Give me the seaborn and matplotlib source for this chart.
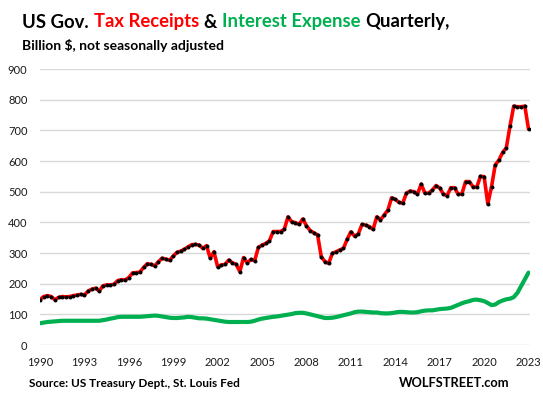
import matplotlib
matplotlib.use("Agg")
import matplotlib.pyplot as plt
import seaborn as sns
import pandas as pd

# quarterly values, 1990Q1 .. 2023Q1, billion $
tax_receipts = [
    148, 158, 161, 158,  148, 155, 158, 157,  158, 161, 163, 165,   # 1990-92
    163, 176, 182, 185,  176, 193, 196, 196,  198, 210, 213, 212,   # 1993-95
    220, 235, 236, 238,  253, 265, 263, 258,  272, 283, 280, 276,   # 1996-98
    290, 302, 306, 312,  320, 327, 328, 326,  315, 324, 283, 304,   # 1999-01
    255, 261, 263, 277,  268, 263, 239, 285,  268, 279, 275, 318,   # 2002-04
    326, 331, 340, 370,  370, 370, 377, 418,  402, 399, 393, 411,   # 2005-07
    389, 373, 366, 359,  288, 272, 266, 299,  304, 310, 315, 345,   # 2008-10
    369, 355, 362, 393,  391, 386, 377, 418,  408, 424, 440, 480,   # 2011-13
    475, 465, 462, 495,  502, 500, 492, 525,  495, 495, 505, 520,   # 2014-16
    512, 492, 487, 513,  513, 491, 493, 533,  533, 516, 514, 550,   # 2017-19
    549, 460, 516, 587,  603, 628, 643, 714,  779, 777, 777, 779,   # 2020-22
    704,                                                            # 2023
]

interest_expense = [
    71, 73, 75, 76,  77, 78, 79, 79,  79, 79, 79, 79,
    79, 79, 79, 79,  79, 81, 83, 86,  88, 91, 92, 92,
    92, 92, 92, 92,  93, 94, 95, 96,  95, 93, 91, 89,
    88, 88, 89, 90,  92, 91, 89, 87,  87, 86, 84, 82,
    80, 78, 76, 75,  75, 75, 75, 75,  75, 76, 79, 83,
    86, 88, 90, 92,  93, 95, 97, 99,  101, 104, 105, 105,
    103, 100, 97, 94,  91, 88, 88, 89,  91, 94, 97, 100,
    103, 107, 109, 109,  108, 107, 106, 106,  104, 103, 103, 104,
    106, 108, 108, 107,  106, 106, 107, 110,  112, 113, 113, 115,
    117, 118, 119, 121,  126, 131, 136, 140,  143, 147, 148, 146,
    143, 137, 130, 132,  140, 145, 149, 151,  156, 170, 192, 214,
    236,
]

year_labels = ['1990', '1993', '1996', '1999', '2002', '2005',
               '2008', '2011', '2014', '2017', '2020', '2023']
y_ticks = [0, 100, 200, 300, 400, 500, 600, 700, 800, 900]

df = pd.DataFrame({
    'q': range(len(tax_receipts)),
    'tax': tax_receipts,
    'interest': interest_expense,
})

sns.set_theme(style='white')
plt.rcParams['font.family'] = ['Lato', 'DejaVu Sans']

W, H = 543, 394
fig = plt.figure(figsize=(W / 100, H / 100), dpi=100)
ax = fig.add_axes([40 / W, 49 / H, 490 / W, 276 / H])

sns.lineplot(data=df, x='q', y='interest', color='#00B050', linewidth=3.0, ax=ax)
sns.lineplot(data=df, x='q', y='tax', color='#FF0000', linewidth=2.6,
             marker='o', markersize=2.1, markerfacecolor='black',
             markeredgecolor='black', ax=ax)

ax.set_xlim(0, 132.4)
ax.set_ylim(0, 900)
ax.set_yticks(y_ticks)
ax.set_xticks(range(0, 12 * len(year_labels), 12))
ax.set_xticklabels(year_labels)
ax.set_xlabel('')
ax.set_ylabel('')
ax.grid(axis='y', color='#D9D9D9', linewidth=1)
ax.set_axisbelow(True)
sns.despine(ax=ax, left=True, bottom=True)
ax.tick_params(axis='y', length=0, labelsize=8, colors='#1a1a1a', pad=9)
ax.tick_params(axis='x', length=0, labelsize=8, colors='#1a1a1a', pad=9)

# title in three colours
tx = fig.text(22 / W, 1 - 27.5 / H, 'US Gov.', fontsize=13.3, fontweight='bold',
              color='black', va='baseline')
parts = [(' Tax Receipts', '#FF0000'), (' &', 'black'),
         (' Interest Expense', '#00B050'), (' Quarterly,', 'black')]
prev = tx
for s, c in parts:
    prev = ax.annotate(s.strip(), xy=(1, 0), xycoords=prev, xytext=(3.6, 0),
                       textcoords='offset points', fontsize=13.3,
                       fontweight='bold', color=c, va='bottom',
                       annotation_clip=False)

fig.text(22 / W, 1 - 49.5 / H, 'Billion $, not seasonally adjusted',
         fontsize=10, fontweight='bold', color='black', va='baseline')
fig.text(29 / W, 1 - 387 / H, 'Source: US Treasury Dept., St. Louis Fed',
         fontsize=8.5, fontweight='bold', color='black', va='baseline')
fig.text(510 / W, 1 - 387 / H, 'WOLFSTREET.com',
         fontsize=9.3, fontweight='bold', color='black', va='baseline', ha='right')

fig.savefig('out.png', dpi=100)
